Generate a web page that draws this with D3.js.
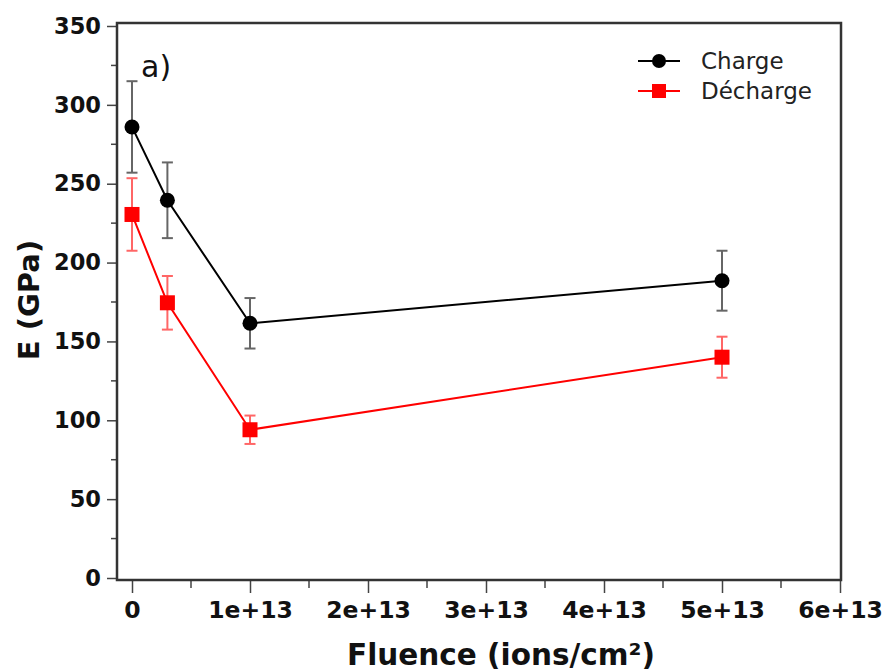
<!DOCTYPE html>
<html>
<head>
<meta charset="utf-8">
<script src="https://cdn.jsdelivr.net/npm/d3@7"></script>
<style>
  body { margin: 0; background: #fff; }
  svg { display: block; font-family: "DejaVu Sans", Verdana, sans-serif; }
</style>
</head>
<body>
<svg id="chart"></svg>
<script>
// data
var fluence = [0, 0.3e13, 1e13, 5e13];
var charge = [286, 239.5, 161.5, 188.5];
var chargeErr = [29, 24, 16, 19];
var decharge = [230.5, 174.5, 94, 140];
var dechargeErr = [23, 17, 9, 13];
var xTicks = [0, 1e13, 2e13, 3e13, 4e13, 5e13, 6e13];
var xTickLabels = ['0', '1e+13', '2e+13', '3e+13', '4e+13', '5e+13', '6e+13'];
var yTicks = [0, 50, 100, 150, 200, 250, 300, 350];

var width = 884, height = 671;
var box = {left: 117, right: 841, top: 23, bottom: 580};

var svg = d3.select('#chart')
    .attr('width', width)
    .attr('height', height);

var x = d3.scaleLinear()
    .domain([0, 6e13])
    .range([132, 840]);

var y = d3.scaleLinear()
    .domain([0, 350])
    .range([578, 26]);

// minor ticks
var xMinor = d3.range(0.5e13, 6e13, 1e13);
var yMinor = d3.range(25, 350, 50);

svg.append('g')
    .selectAll('line')
    .data(xMinor)
    .enter()
    .append('line')
    .attr('x1', d => x(d)).attr('x2', d => x(d))
    .attr('y1', box.bottom).attr('y2', box.bottom + 8)
    .attr('stroke', '#444').attr('stroke-width', 1.5);

svg.append('g')
    .selectAll('line')
    .data(yMinor)
    .enter()
    .append('line')
    .attr('y1', d => y(d)).attr('y2', d => y(d))
    .attr('x1', box.left).attr('x2', box.left - 6)
    .attr('stroke', '#444').attr('stroke-width', 1.5);

// axes
var xAxis = svg.append('g')
    .attr('transform', 'translate(0,' + box.bottom + ')')
    .call(d3.axisBottom(x).tickValues(xTicks).tickFormat((d, i) => xTickLabels[i]).tickSize(13).tickPadding(8));

var yAxis = svg.append('g')
    .attr('transform', 'translate(' + box.left + ',0)')
    .call(d3.axisLeft(y).tickValues(yTicks).tickSize(10).tickPadding(6));

[xAxis, yAxis].forEach(a => {
    a.select('.domain').remove();
    a.selectAll('.tick line').attr('stroke', '#444').attr('stroke-width', 1.5);
    a.selectAll('.tick text')
        .attr('fill', '#111')
        .style('font-weight', 'bold')
        .style('font-family', '"DejaVu Sans", Verdana, sans-serif');
});
xAxis.selectAll('.tick text').style('font-size', '23.5px');
yAxis.selectAll('.tick text').style('font-size', '22.5px');

// frame
svg.append('rect')
    .attr('x', box.left).attr('y', box.top)
    .attr('width', box.right - box.left)
    .attr('height', box.bottom - box.top)
    .attr('fill', 'none')
    .attr('stroke', '#333')
    .attr('stroke-width', 2.5);

// axis titles
svg.append('text')
    .attr('x', 501).attr('y', 665)
    .attr('text-anchor', 'middle')
    .style('font-size', '29.5px').style('font-weight', 'bold')
    .attr('fill', '#111')
    .text('Fluence (ions/cm²)');

svg.append('text')
    .attr('transform', 'translate(39,300) rotate(-90)')
    .attr('text-anchor', 'middle')
    .style('font-size', '29px').style('font-weight', 'bold')
    .attr('fill', '#111')
    .text('E (GPa)');

svg.append('text')
    .attr('x', 141).attr('y', 77)
    .style('font-size', '30px')
    .attr('fill', '#111')
    .text('a)');

// series
var series = [
    {name: 'Charge', vals: charge, err: chargeErr, color: '#000', errColor: '#666', shape: 'circle'},
    {name: 'Décharge', vals: decharge, err: dechargeErr, color: '#f00', errColor: '#f66', shape: 'square'}
];

var line = d3.line()
    .x((d, i) => x(fluence[i]))
    .y(d => y(d));

series.forEach(s => {
    var g = svg.append('g');

    // error bars
    var eb = g.selectAll('.err')
        .data(s.vals)
        .enter()
        .append('g');
    eb.append('line')
        .attr('x1', (d, i) => x(fluence[i])).attr('x2', (d, i) => x(fluence[i]))
        .attr('y1', (d, i) => y(d + s.err[i])).attr('y2', (d, i) => y(d - s.err[i]))
        .attr('stroke', s.errColor).attr('stroke-width', 2);
    [1, -1].forEach(sign => {
        eb.append('line')
            .attr('x1', (d, i) => x(fluence[i]) - 5.5).attr('x2', (d, i) => x(fluence[i]) + 5.5)
            .attr('y1', (d, i) => y(d + sign * s.err[i])).attr('y2', (d, i) => y(d + sign * s.err[i]))
            .attr('stroke', s.errColor).attr('stroke-width', 2);
    });

    g.append('path')
        .datum(s.vals)
        .attr('d', line)
        .attr('fill', 'none')
        .attr('stroke', s.color)
        .attr('stroke-width', 2);

    if (s.shape === 'circle') {
        g.selectAll('circle')
            .data(s.vals)
            .enter()
            .append('circle')
            .attr('cx', (d, i) => x(fluence[i]))
            .attr('cy', d => y(d))
            .attr('r', 7.5)
            .attr('fill', s.color);
    } else {
        g.selectAll('rect')
            .data(s.vals)
            .enter()
            .append('rect')
            .attr('x', (d, i) => x(fluence[i]) - 7.5)
            .attr('y', d => y(d) - 7.5)
            .attr('width', 15).attr('height', 15)
            .attr('fill', s.color);
    }
});

// legend
var legend = svg.append('g');
series.forEach((s, i) => {
    var ly = 61 + i * 30;
    legend.append('line')
        .attr('x1', 638).attr('x2', 680)
        .attr('y1', ly).attr('y2', ly)
        .attr('stroke', s.color).attr('stroke-width', 2);
    if (s.shape === 'circle') {
        legend.append('circle').attr('cx', 659).attr('cy', ly).attr('r', 7).attr('fill', s.color);
    } else {
        legend.append('rect').attr('x', 652).attr('y', ly - 7).attr('width', 14).attr('height', 14).attr('fill', s.color);
    }
    legend.append('text')
        .attr('x', 701).attr('y', ly + 8)
        .style('font-size', '23px')
        .attr('fill', '#222')
        .text(s.name);
});
</script>
</body>
</html>
